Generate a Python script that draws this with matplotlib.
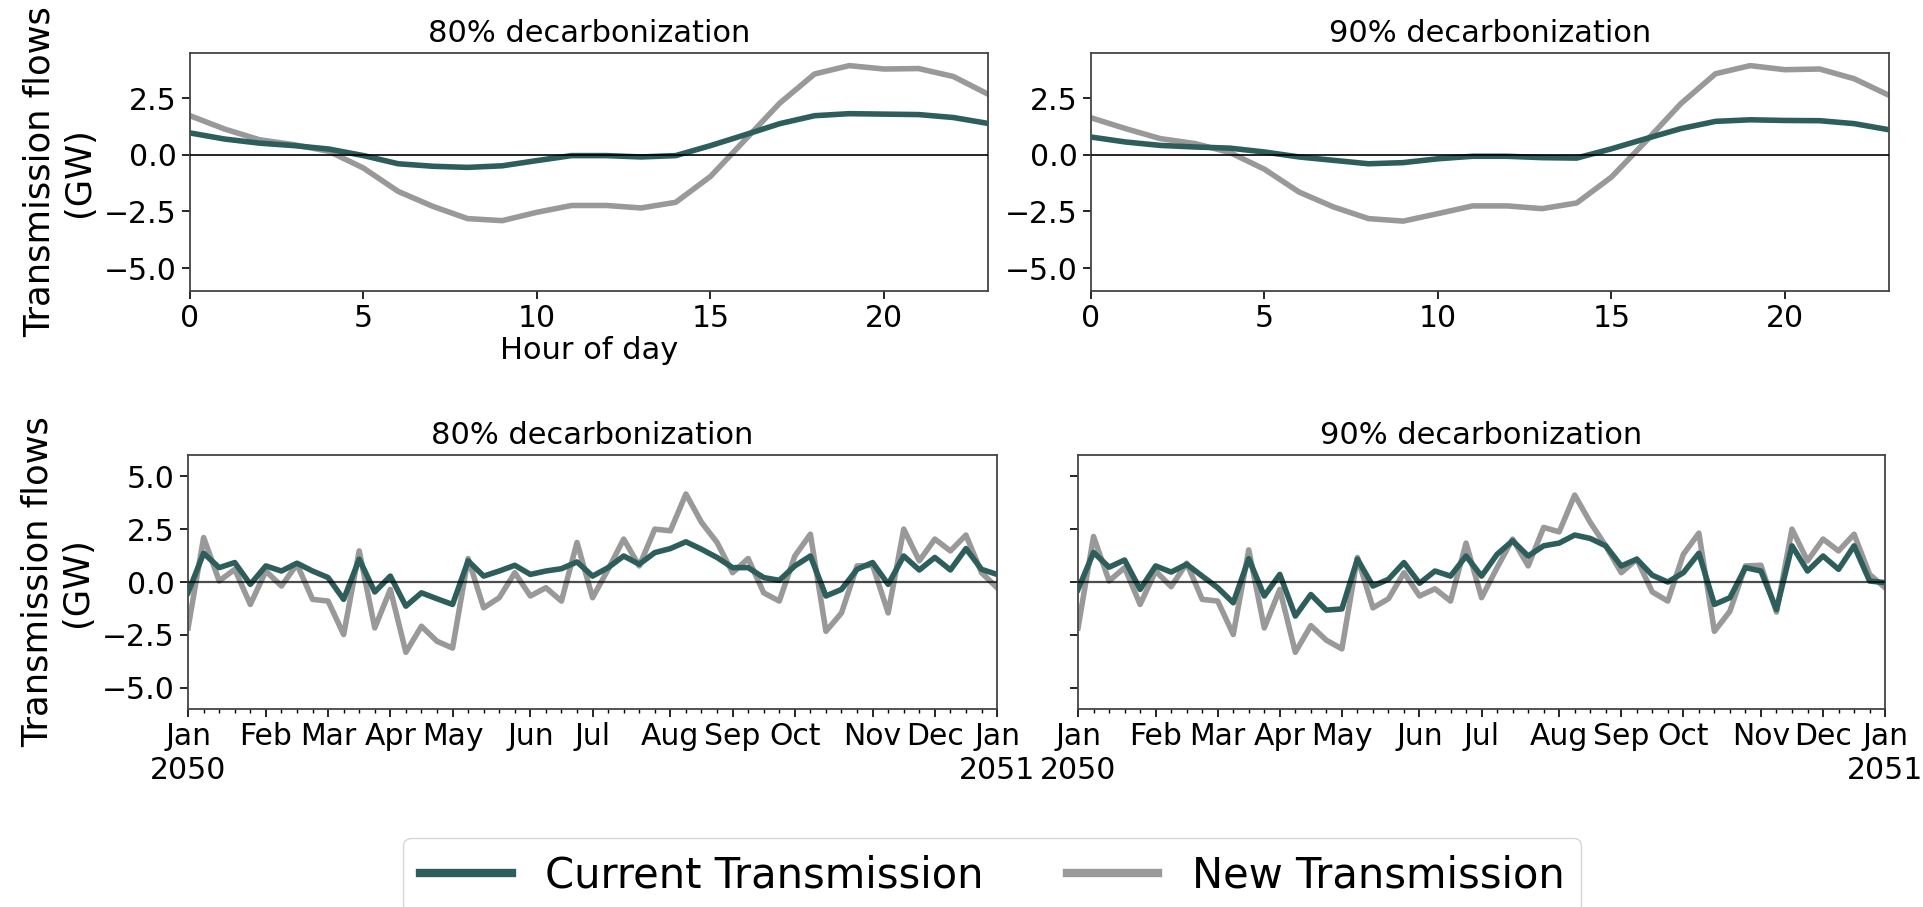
import numpy as np
import matplotlib
matplotlib.use("Agg")
import matplotlib.pyplot as plt
from matplotlib.ticker import FixedLocator, MultipleLocator

# --- data ---
hours = list(range(24))

hourly_cur_80 = [0.96, 0.69, 0.51, 0.40, 0.25, -0.04, -0.40, -0.51, -0.56, -0.49, -0.26, -0.04,
                 -0.04, -0.10, -0.04, 0.40, 0.88, 1.37, 1.72, 1.81, 1.79, 1.77, 1.64, 1.38]
hourly_new_80 = [1.72, 1.13, 0.66, 0.44, 0.15, -0.59, -1.62, -2.28, -2.82, -2.91, -2.54, -2.24,
                 -2.24, -2.35, -2.10, -0.96, 0.66, 2.28, 3.56, 3.93, 3.78, 3.80, 3.45, 2.67]
hourly_cur_90 = [0.78, 0.56, 0.41, 0.34, 0.29, 0.12, -0.10, -0.25, -0.40, -0.35, -0.18, -0.07,
                 -0.07, -0.13, -0.15, 0.26, 0.71, 1.15, 1.47, 1.54, 1.51, 1.50, 1.37, 1.10]
hourly_new_90 = [1.63, 1.15, 0.71, 0.49, 0.10, -0.64, -1.65, -2.31, -2.82, -2.93, -2.60, -2.26,
                 -2.26, -2.38, -2.13, -0.99, 0.60, 2.25, 3.57, 3.93, 3.75, 3.78, 3.35, 2.62]

# weekly averages, 53 weeks from Jan 2050 to Jan 2051
weekly_cur_80 = [-0.50, 1.36, 0.68, 0.92, -0.11, 0.76, 0.52, 0.89, 0.52, 0.21, -0.82, 1.08,
                 -0.47, 0.28, -1.14, -0.51, -0.79, -1.06, 1.00, 0.28, 0.52, 0.79, 0.36, 0.52,
                 0.63, 0.95, 0.28, 0.68, 1.23, 0.84, 1.39, 1.58, 1.90, 1.55, 1.16, 0.68,
                 0.68, 0.21, 0.08, 0.76, 1.23, -0.66, -0.35, 0.60, 0.92, -0.11, 1.23, 0.57,
                 1.16, 0.57, 1.58, 0.60, 0.36]
weekly_new_80 = [-2.17, 2.10, 0.05, 0.60, -1.06, 0.52, -0.19, 0.84, -0.82, -0.90, -2.48, 1.47,
                 -2.17, -0.35, -3.32, -2.09, -2.80, -3.12, 1.11, -1.22, -0.74, 0.44, -0.66, -0.27,
                 -0.90, 1.87, -0.74, 0.60, 2.03, 0.76, 2.50, 2.42, 4.16, 2.82, 1.87, 0.44,
                 1.11, -0.51, -0.90, 1.23, 2.26, -2.33, -1.46, 0.76, 0.79, -1.46, 2.50, 1.00,
                 2.03, 1.47, 2.22, 0.44, -0.27]
weekly_cur_90 = [-0.35, 1.40, 0.70, 1.04, -0.35, 0.76, 0.47, 0.84, 0.28, -0.27, -0.98, 1.10,
                 -0.66, 0.36, -1.61, -0.59, -1.33, -1.27, 1.08, -0.19, 0.13, 0.92, -0.06, 0.52,
                 0.28, 1.23, 0.28, 1.31, 1.95, 1.23, 1.71, 1.84, 2.22, 2.06, 1.71, 0.76,
                 1.08, 0.32, 0.00, 0.44, 1.36, -1.06, -0.74, 0.68, 0.52, -1.30, 1.71, 0.52,
                 1.23, 0.60, 1.71, 0.05, -0.03]
weekly_new_90 = [-2.17, 2.15, 0.05, 0.68, -1.06, 0.52, -0.22, 0.89, -0.82, -0.90, -2.48, 1.52,
                 -2.17, -0.35, -3.32, -2.06, -2.75, -3.16, 1.16, -1.22, -0.79, 0.44, -0.66, -0.32,
                 -0.90, 1.84, -0.74, 0.68, 2.03, 0.76, 2.58, 2.37, 4.11, 2.82, 1.71, 0.44,
                 1.08, -0.47, -0.90, 1.31, 2.31, -2.33, -1.38, 0.76, 0.79, -1.42, 2.50, 1.00,
                 2.03, 1.47, 2.26, 0.36, -0.27]

month_weeks = [0, 5, 9, 13, 17, 22, 26, 31, 35, 39, 44, 48, 52]
month_labels = ["Jan\n2050", "Feb", "Mar", "Apr", "May", "Jun", "Jul", "Aug",
                "Sep", "Oct", "Nov", "Dec", "Jan\n2051"]

titles = ["80% decarbonization", "90% decarbonization"]
c_cur = "#2e5e5b"
c_new = "#999999"
FS = 21.5      # ticks / titles
FS_Y = 25.5    # y labels

plt.rcParams["font.family"] = ["DejaVu Sans"]
plt.rcParams["axes.edgecolor"] = "#444444"
plt.rcParams["axes.linewidth"] = 1.3

fig = plt.figure(figsize=(19.23, 9.07), dpi=100)

ax_tl = fig.add_axes([0.0988, 0.6795, 0.415, 0.2624])
ax_tr = fig.add_axes([0.5673, 0.6795, 0.415, 0.2624])
ax_bl = fig.add_axes([0.0978, 0.2183, 0.4207, 0.2800])
ax_br = fig.add_axes([0.5606, 0.2183, 0.4197, 0.2800], sharey=ax_bl)

# --- hourly profiles ---
for ax, cur, new, title in [(ax_tl, hourly_cur_80, hourly_new_80, titles[0]),
                            (ax_tr, hourly_cur_90, hourly_new_90, titles[1])]:
    ax.plot(hours, cur, color=c_cur, lw=4, label="Current Transmission", zorder=3)
    ax.plot(hours, new, color=c_new, lw=4, label="New Transmission", zorder=2)
    ax.axhline(0, color="black", lw=1.2, zorder=4)
    ax.set_xlim(0, 23)
    ax.set_ylim(-6, 4.5)
    ax.set_yticks([-5.0, -2.5, 0.0, 2.5])
    ax.set_xticks([0, 5, 10, 15, 20])
    ax.set_title(title, fontsize=FS + 0.5, pad=8)
    ax.tick_params(labelsize=FS, length=6, width=1.2)

ax_tl.set_xlabel("Hour of day", fontsize=FS + 0.5, labelpad=2)
ax_tl.set_ylabel("Transmission flows\n(GW)", fontsize=FS_Y, labelpad=6)

# --- weekly averages ---
weeks = np.arange(len(weekly_cur_80))
for ax, cur, new, title in [(ax_bl, weekly_cur_80, weekly_new_80, titles[0]),
                            (ax_br, weekly_cur_90, weekly_new_90, titles[1])]:
    ax.plot(weeks, cur, color=c_cur, lw=4, zorder=3)
    ax.plot(weeks, new, color=c_new, lw=4, zorder=2)
    ax.axhline(0, color="black", lw=1.6, alpha=0.7, zorder=4)
    ax.set_xlim(weeks[0], weeks[-1])
    ax.xaxis.set_major_locator(FixedLocator(month_weeks))
    ax.set_xticklabels(month_labels)
    ax.xaxis.set_minor_locator(MultipleLocator(1))
    ax.set_title(title, fontsize=FS + 0.5, pad=8)
    ax.tick_params(labelsize=FS, length=6, width=1.2)
    ax.tick_params(which="minor", length=3, width=1)

ax_bl.set_ylim(-6, 6)
ax_bl.set_yticks([-5.0, -2.5, 0.0, 2.5, 5.0])
ax_bl.set_ylabel("Transmission flows\n(GW)", fontsize=FS_Y, labelpad=6)
plt.setp(ax_br.get_yticklabels(), visible=False)

handles, labels = ax_tl.get_legend_handles_labels()
leg = fig.legend(handles, labels, loc="upper center", bbox_to_anchor=(0.516, 0.076),
                 ncol=2, fontsize=30, frameon=True, fancybox=True,
                 handlelength=2.2, borderaxespad=0)
for line in leg.get_lines():
    line.set_linewidth(6)

fig.savefig("out.png", dpi=100)
